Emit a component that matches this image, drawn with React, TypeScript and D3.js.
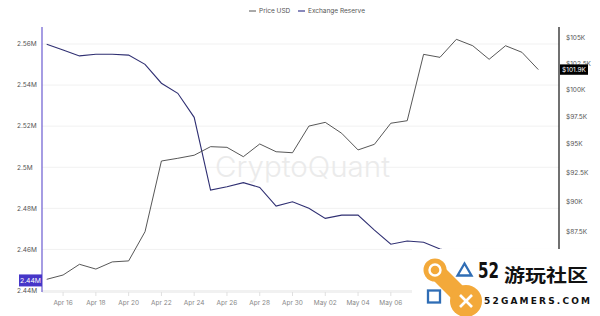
import React from "react";
import * as d3 from "d3";

const dates = [
  "2025-04-15","2025-04-16","2025-04-17","2025-04-18","2025-04-19","2025-04-20","2025-04-21","2025-04-22",
  "2025-04-23","2025-04-24","2025-04-25","2025-04-26","2025-04-27","2025-04-28","2025-04-29","2025-04-30",
  "2025-05-01","2025-05-02","2025-05-03","2025-05-04","2025-05-05","2025-05-06","2025-05-07","2025-05-08",
  "2025-05-09","2025-05-10","2025-05-11","2025-05-12","2025-05-13","2025-05-14","2025-05-15",
];
// Price USD, in thousands
const priceK = [
  83.67, 84.01, 84.86, 84.48, 85.05, 85.13, 87.5, 93.51, 93.75, 94.02, 94.78, 94.72, 93.89, 95.02, 94.33, 94.24,
  96.63, 96.97, 95.98, 94.49, 94.99, 96.89, 97.12, 103.37, 103.08, 104.84, 104.21, 102.89, 104.21, 103.57, 101.9,
];
// Exchange reserve, in millions BTC
const reserveM = [
  2.5599, 2.5571, 2.5542, 2.555, 2.555, 2.5546, 2.5501, 2.5409, 2.536, 2.5243, 2.4889, 2.4905, 2.4925, 2.4902, 2.4811, 2.4832,
  2.48, 2.4751, 2.4767, 2.4767, 2.4694, 2.4625, 2.4641, 2.4635, 2.4602, 2.4583, 2.4566, 2.4529, 2.4508, 2.4476, 2.4449,
];
const leftTicks = [2.44, 2.46, 2.48, 2.5, 2.52, 2.54, 2.56];
const leftTickLabels = ["2.44M", "2.46M", "2.48M", "2.5M", "2.52M", "2.54M", "2.56M"];
const rightTicks = [87.5, 90, 92.5, 95, 97.5, 100, 102.5, 105];
const rightTickLabels = ["$87.5K", "$90K", "$92.5K", "$95K", "$97.5K", "$100K", "$102.5K", "$105K"];
// tick labels visible in the picture (later ones are hidden under the site logo)
const xTickDates = [
  "2025-04-16","2025-04-18","2025-04-20","2025-04-22","2025-04-24","2025-04-26","2025-04-28","2025-04-30",
  "2025-05-02","2025-05-04","2025-05-06",
];
const legendItems = ["Price USD", "Exchange Reserve"];

const W = 600;
const H = 316;
const FONT = "Inter, 'Noto Sans', sans-serif";

export default function App() {
  const parse = d3.timeParse("%Y-%m-%d");
  const ds = dates.map((d) => parse(d) as Date);
  const x = d3.scaleTime().domain([ds[0], ds[ds.length - 1]]).range([46.7, 538.3]);
  const yL = d3.scaleLinear().domain([2.44, 2.56]).range([290.5, 44]);
  const yR = d3.scaleLog().domain([87.5, 105]).range([231.7, 37.7]);
  const plotL = 42;
  const plotR = 559;
  const axisY = 292;

  const priceLine = d3
    .line<number>()
    .x((_, i) => x(ds[i]))
    .y((v) => yR(v));
  const reserveLine = d3
    .line<number>()
    .x((_, i) => x(ds[i]))
    .y((v) => yL(v));

  const fmtX = d3.timeFormat("%b %d");
  const lastRes = reserveM[reserveM.length - 1];
  const lastPrice = priceK[priceK.length - 1];
  const blue = "#2f6db5";
  const orange = "#f3a93a";

  return (
    <svg
      width={W}
      height={H}
      style={{ position: "absolute", left: 0, top: 0, background: "#fff" }}
      fontFamily={FONT}
    >
      <rect width={W} height={H} fill="#fff" />
      {/* legend */}
      <g fontSize={6.5} fill="#555">
        <line x1={249} x2={256} y1={11} y2={11} stroke="#555" strokeWidth={1} />
        <text x={259} y={13.3}>{legendItems[0]}</text>
        <line x1={298} x2={305} y1={11} y2={11} stroke="#3b3b8f" strokeWidth={1.2} />
        <text x={308} y={13.3}>{legendItems[1]}</text>
      </g>
      {/* gridlines */}
      {leftTicks.map((t) => (
        <line key={t} x1={plotL} x2={plotR} y1={yL(t)} y2={yL(t)} stroke="#f1f1f1" strokeWidth={1} />
      ))}
      {/* watermark */}
      <text
        x={302.5}
        y={176.5}
        textAnchor="middle"
        fontSize={28}
        fontWeight={300}
        fill="#ebebeb"
        textLength={175}
        lengthAdjust="spacingAndGlyphs"
      >
        CryptoQuant
      </text>
      {/* x axis */}
      <line x1={plotL} x2={plotR} y1={axisY} y2={axisY} stroke="#e3e3e3" strokeWidth={1} />
      {xTickDates.map((s) => {
        const d = parse(s) as Date;
        const xx = x(d);
        return (
          <g key={s}>
            <line x1={xx} x2={xx} y1={axisY} y2={axisY + 4} stroke="#e0e0e0" strokeWidth={1} />
            <text x={xx} y={305} textAnchor="middle" fontSize={6.5} fill="#888">
              {fmtX(d)}
            </text>
          </g>
        );
      })}
      {/* left axis */}
      <line x1={plotL} x2={plotL} y1={27} y2={axisY} stroke="#6a5bd0" strokeWidth={1.2} />
      {leftTicks.map((t, i) => (
        <text key={t} x={17} y={yL(t) + 2.3} fontSize={6.5} fill="#555">
          {leftTickLabels[i]}
        </text>
      ))}
      {/* right axis */}
      <line x1={plotR} x2={plotR} y1={27} y2={axisY} stroke="#111" strokeWidth={1.2} />
      {rightTicks.map((t, i) => (
        <text key={t} x={566} y={yR(t) + 2.3} fontSize={6.5} fill="#555">
          {rightTickLabels[i]}
        </text>
      ))}
      {/* series */}
      <path d={reserveLine(reserveM) || ""} fill="none" stroke="#2f2f72" strokeWidth={1.1} />
      <path d={priceLine(priceK) || ""} fill="none" stroke="#444" strokeWidth={0.9} />
      {/* last value labels */}
      <rect x={19} y={yL(lastRes) - 6} width={23} height={12} fill="#4636c8" />
      <text x={30.5} y={yL(lastRes) + 2.4} textAnchor="middle" fontSize={6.8} fill="#fff">
        {(Math.floor(lastRes * 100) / 100).toFixed(2) + "M"}
      </text>
      <rect x={560} y={yR(lastPrice) - 5.2} width={28} height={10.4} fill="#000" />
      <text x={574} y={yR(lastPrice) + 2.3} textAnchor="middle" fontSize={6.5} fill="#fff">
        {"$" + d3.format(".1f")(lastPrice) + "K"}
      </text>
      {/* site logo overlay */}
      <g>
        <rect x={412} y={249} width={188} height={67} fill="#fff" />
        <line x1={435} y1={270} x2={466} y2={301} stroke={orange} strokeWidth={17} strokeLinecap="round" />
        <circle cx={435} cy={270} r={11.5} fill={orange} />
        <circle cx={466} cy={301} r={16} fill={orange} />
        <circle cx={435} cy={270} r={5.5} fill="none" stroke="#fff" strokeWidth={2.4} />
        <line x1={460} y1={295} x2={472} y2={307} stroke="#fff" strokeWidth={2.6} />
        <line x1={472} y1={295} x2={460} y2={307} stroke="#fff" strokeWidth={2.6} />
        <polygon points="464.5,263.5 457.5,275.5 471.5,275.5" fill="none" stroke={blue} strokeWidth={2.3} />
        <rect x={428} y={290.5} width={12} height={12} fill="none" stroke={blue} strokeWidth={2.3} />
        <text
          x={478}
          y={277.5}
          fontSize={22}
          fontWeight={700}
          fill="#111"
          fontFamily="'Liberation Sans Narrow', 'DejaVu Sans Condensed', sans-serif"
          textLength={21}
          lengthAdjust="spacingAndGlyphs"
        >
          52
        </text>
        <text
          x={504}
          y={281.5}
          fontSize={18}
          fontWeight={700}
          fill="#111"
          fontFamily="'Noto Sans CJK SC', sans-serif"
          textLength={84}
          lengthAdjust="spacingAndGlyphs"
        >
          游玩社区
        </text>
        <text
          x={484}
          y={303.5}
          fontSize={9}
          fontWeight={700}
          fill="#111"
          fontFamily="'DejaVu Sans', sans-serif"
          textLength={106}
          lengthAdjust="spacing"
        >
          52GAMERS.COM
        </text>
      </g>
    </svg>
  );
}
